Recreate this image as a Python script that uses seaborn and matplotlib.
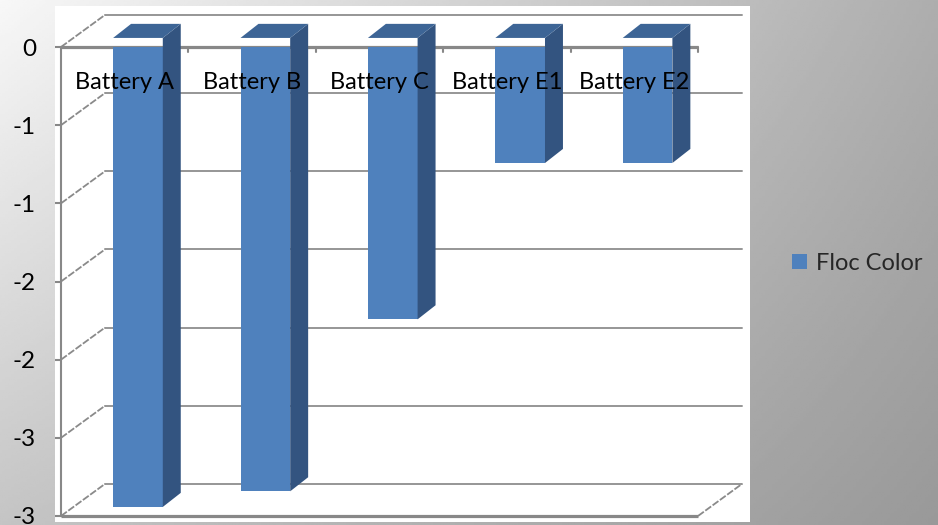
import numpy as np
import pandas as pd
import matplotlib
matplotlib.use("Agg")
import matplotlib.pyplot as plt
from matplotlib.patches import Rectangle, Polygon
import seaborn as sns

# ---- data ----
categories = ["Battery A", "Battery B", "Battery C", "Battery E1", "Battery E2"]
floc_color = [-3.0, -2.9, -1.8, -0.8, -0.8]
series_name = "Floc Color"
ytick_values = [0, -0.5, -1, -1.5, -2, -2.5, -3]
ytick_labels = ["0", "-1", "-1", "-2", "-2", "-3", "-3"]

df = pd.DataFrame({"Battery": categories, "Value": floc_color, "Series": series_name})

sns.set_theme(style="white")
plt.rcParams['font.family'] = ['Lato', 'DejaVu Sans']

W, H = 938, 525
fig = plt.figure(figsize=(W / 100, H / 100), dpi=100)

# gradient background
bg = fig.add_axes([0, 0, 1, 1], zorder=-10)
xx = np.linspace(0, 1, 300)
yy = np.linspace(0, 1, 200)
X, Y = np.meshgrid(xx, yy)
TL, TR, BL, BR = 0.97, 0.68, 0.77, 0.60
V = TL * (1 - X) * (1 - Y) + TR * X * (1 - Y) + BL * (1 - X) * Y + BR * X * Y
bg.imshow(V, cmap="gray", vmin=0, vmax=1, aspect="auto", extent=[0, 1, 1, 0])
bg.set_axis_off()

# white chart area
fig.patches.append(Rectangle((55 / W, (H - 522) / H), (750 - 55) / W, (522 - 6) / H,
                             transform=fig.transFigure, facecolor="white",
                             edgecolor="none", zorder=-5))

ax = fig.add_axes([61 / W, (H - 516) / H, (698 - 61) / W, (516 - 47) / H], zorder=1)
ax.set_facecolor("none")

front = "#4F81BD"
side = "#335480"
top = "#3D6596"
grid_c = "#969696"
axis_c = "#888888"

sns.barplot(data=df, x="Battery", y="Value", hue="Series", palette=[front],
            dodge=False, width=0.39, saturation=1, ax=ax, zorder=3)

ax.set_xlim(-0.5, 4.5)
ax.set_ylim(-3, 0)

Dx, Dy = 0.345, 0.205          # full depth offset (data units)
bdx, bdy = 0.104, 0.058        # bar front-face offset
sdx, sdy = 0.141, 0.09         # bar depth

for p in list(ax.patches):
    x0 = p.get_x() + bdx
    w = p.get_width()
    h = p.get_height()
    p.set_x(x0)
    p.set_y(bdy)
    p.set_edgecolor("none")
    y_top = bdy
    y_bot = bdy + h
    x1 = x0 + w
    ax.add_patch(Polygon([(x1, y_top), (x1 + sdx, y_top + sdy), (x1 + sdx, y_bot + sdy), (x1, y_bot)],
                         closed=True, facecolor=side, edgecolor="none", zorder=3, clip_on=False))
    ax.add_patch(Polygon([(x0, y_top), (x1, y_top), (x1 + sdx, y_top + sdy), (x0 + sdx, y_top + sdy)],
                         closed=True, facecolor=top, edgecolor="none", zorder=3, clip_on=False))

# walls / gridlines
for yv in ytick_values:
    ax.plot([-0.5 + Dx, 4.5 + Dx], [yv + Dy, yv + Dy], color=grid_c, lw=1.4, zorder=1, clip_on=False)
    ax.plot([-0.5, -0.5 + Dx], [yv, yv + Dy], color="#8a8a8a", lw=1.3, ls=(0, (4, 1)), zorder=1, clip_on=False)
ax.plot([4.5, 4.5 + Dx], [-3, -3 + Dy], color="#8a8a8a", lw=1.3, ls=(0, (4, 1)), zorder=1, clip_on=False)

# front axes lines
ax.plot([-0.5, 4.5], [0, 0], color=axis_c, lw=2.3, zorder=2, clip_on=False, solid_capstyle="butt")
ax.plot([-0.5, 4.5], [-3, -3], color=axis_c, lw=2.3, zorder=2, clip_on=False, solid_capstyle="butt")
for xb in np.arange(0.5, 5.0, 1.0):
    ax.plot([xb, xb], [0, -0.035], color=axis_c, lw=1.5, zorder=2, clip_on=False)

for s in ["top", "right", "bottom"]:
    ax.spines[s].set_visible(False)
ax.spines["left"].set_color(axis_c)
ax.spines["left"].set_linewidth(1.5)

ax.set_yticks(ytick_values)
ax.set_yticklabels(ytick_labels)
ax.tick_params(axis="y", direction="out", length=4, width=1.5, color=axis_c,
               pad=14, labelsize=17.5, labelcolor="black", left=True)
ax.set_xticks([])
ax.set_xlabel("")
ax.set_ylabel("")

for i, lab in enumerate(categories):
    ax.text(i, -0.224, lab, ha="center", va="center", fontsize=17, color="black", zorder=6)

sns.move_legend(ax, "center left", bbox_to_anchor=(771 / W, 1 - 263 / H),
                bbox_transform=fig.transFigure, frameon=False, title=None,
                fontsize=17, handlelength=0.62, handleheight=0.62, handletextpad=0.4)
leg = ax.get_legend()
for hnd in leg.legend_handles:
    hnd.set_edgecolor("none")
    hnd.set_linewidth(0)

fig.savefig("out.png", dpi=100)
